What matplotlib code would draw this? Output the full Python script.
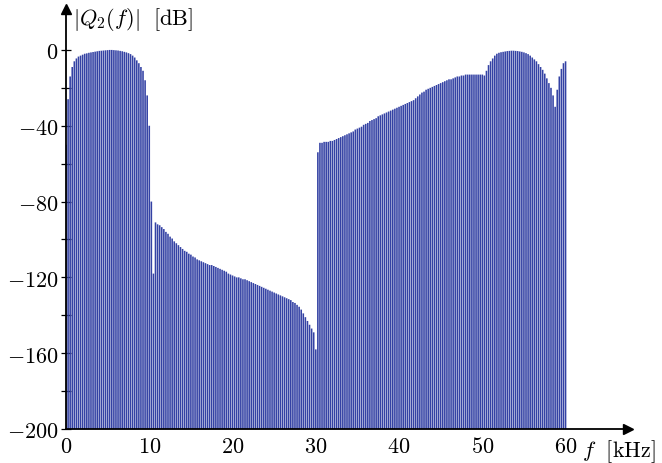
import numpy as np
import matplotlib
matplotlib.use("Agg")
import matplotlib.pyplot as plt

plt.rcParams['mathtext.fontset'] = 'cm'
plt.rcParams['font.family'] = 'serif'
plt.rcParams['font.serif'] = ['DejaVu Serif']

# spectrum lines every 0.25 kHz, 0 .. 60 kHz
freq_step = 0.25

# passband 0 .. 10 kHz
band_low = [-50, -26, -14, -9, -6, -4.5, -3.5, -3, -2.5, -2, -1.8, -1.5, -1.3, -1.1,
            -0.9, -0.7, -0.5, -0.4, -0.3, -0.2, -0.1, 0, 0, -0.1, -0.2, -0.3, -0.5,
            -0.7, -1, -1.3, -1.7, -2.2, -3, -4, -5.5, -7, -9, -11, -16, -24, -40]

# stopband 10.25 .. 30 kHz
band_stop = [-80, -118, -91, -92, -92.5, -93.5, -94.5, -96,
             -97, -98.5, -99.5, -101, -102, -103, -104, -105,
             -106, -106.5, -107.5, -108, -109, -109.5, -110.5, -111,
             -111.5, -112, -112.5, -113, -113.5, -113.5, -114, -114.5,
             -115, -115.5, -116, -116.5, -117, -118, -118.5, -119,
             -119.5, -120, -120, -120.5, -121, -121, -121.5, -122,
             -122.5, -123, -123.5, -124, -124.5, -125, -125.5, -126,
             -126.5, -127, -127.5, -128, -128.5, -129, -129.5, -130,
             -130.5, -131, -131.5, -132, -133, -133.5, -134.5, -135.5,
             -137, -139, -141, -143, -145, -147, -149, -158]

# upper band 30.25 .. 60 kHz
band_high = [-54, -49, -49, -48.5, -48.5, -48.5, -48, -48,
             -47.5, -47, -46.5, -46, -45.5, -45, -44.5, -44,
             -43.5, -43, -42, -41.5, -41, -40.5, -39.5, -39,
             -38.5, -37.5, -37, -36.5, -36, -35, -34.5, -34,
             -33.5, -33, -32.5, -32, -31.5, -31, -30.5, -30,
             -29.5, -29, -28.5, -28, -27.5, -27, -26.5, -25.5,
             -24.5, -23.5, -22.5, -22, -21, -20.5, -20, -19.5,
             -19, -18.5, -18, -17.5, -17, -16.5, -16, -15.5,
             -15.5, -15, -14.5, -14, -14, -13.5, -13.5, -13,
             -13, -13, -13, -13, -13, -13, -13, -13,
             -13.5, -11, -8, -6, -4.5, -3, -2, -1.5,
             -1.2, -1, -0.8, -0.6, -0.5, -0.4, -0.4, -0.5,
             -0.6, -0.8, -1, -1.3, -1.7, -2.2, -3, -4,
             -5, -6, -7.5, -9, -10.5, -12.5, -15, -17.5,
             -20, -24, -30, -21, -14, -10, -7, -6]

x_ticks = [0, 10, 20, 30, 40, 50, 60]
y_ticks = [0, -40, -80, -120, -160, -200]

mag = np.array(band_low + band_stop + band_high)
freq = np.arange(len(mag)) * freq_step

fig = plt.figure(figsize=(6.62, 4.64), dpi=100)
ax = fig.add_axes([66 / 662, 34 / 464, (628 - 66) / 662, (430 - 10) / 464])

ax.vlines(freq, -200, mag, color='#3442A4', linewidth=1.15, snap=False)

ax.set_xlim(0, 67.5)
ax.set_ylim(-200, 21.6)

for s in ['top', 'right']:
    ax.spines[s].set_visible(False)
for s in ['left', 'bottom']:
    ax.spines[s].set_linewidth(1.3)

# arrow heads
ax.plot(1, 0, '>k', markersize=7, transform=ax.transAxes, clip_on=False)
ax.plot(0, 1, '^k', markersize=7, transform=ax.transAxes, clip_on=False)

ax.set_xticks(x_ticks)
ax.set_xticklabels([f'${t}$' for t in x_ticks], fontsize=16)
ax.set_yticks(y_ticks)
ax.set_yticklabels([f'${t}$' if t == 0 else f'$-{abs(t)}$' for t in y_ticks], fontsize=16)
ax.set_yticks([-20, -60, -100, -140, -180], minor=True)
ax.tick_params(axis='both', which='both', direction='inout', length=7, width=0.9)
ax.tick_params(axis='x', length=0, pad=4)
ax.tick_params(axis='y', pad=2)

ax.text(0.012, 0.978, r'$|Q_2(f)|\ \ \mathrm{[dB]}$', transform=ax.transAxes,
        fontsize=16, va='center', ha='left')
ax.text(62.0, -204.5, r'$f\ \ \mathrm{[kHz]}$', fontsize=16, va='top', ha='left')

fig.savefig('out.png', dpi=100)
